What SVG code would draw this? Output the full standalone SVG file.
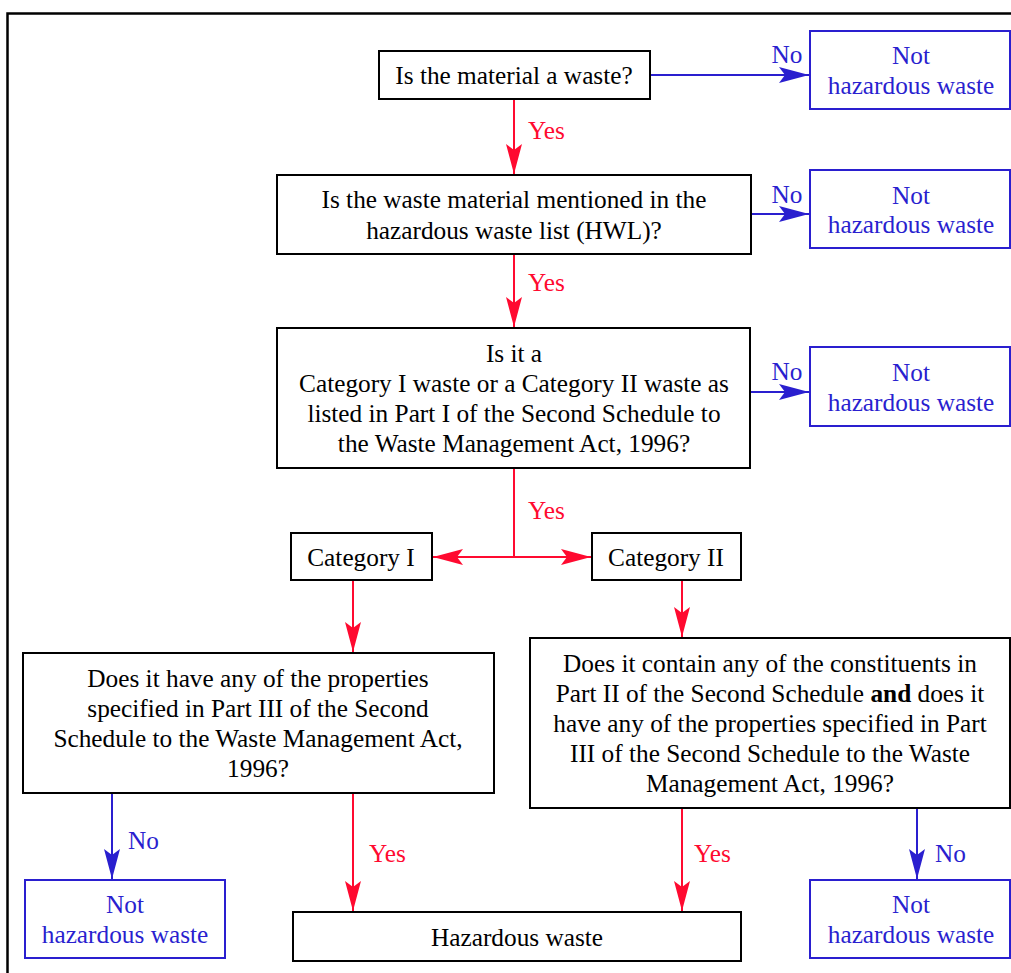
<svg xmlns="http://www.w3.org/2000/svg" width="1011" height="973" viewBox="0 0 1011 973">
<style>
text{font-family:"Liberation Serif","Times New Roman",serif;font-size:25.3px;text-anchor:middle}
.q{fill:#fff;stroke:#000;stroke-width:2}
.n{fill:#fff;stroke:#2a1fcf;stroke-width:2}
.b{fill:#2a1fcf}
.r{fill:#ff0a30}
.lb{stroke:#2a1fcf;stroke-width:2;fill:none}
.lr{stroke:#ff0a30;stroke-width:2;fill:none}
.ls{text-anchor:start}
</style>
<defs>
<marker id="ab" viewBox="0 0 30 16" refX="30" refY="8" markerWidth="30" markerHeight="16" markerUnits="userSpaceOnUse" orient="auto-start-reverse">
<path d="M0,0 L30,8 L0,16 L6,8 z" fill="#2a1fcf"/>
</marker>
<marker id="ar" viewBox="0 0 30 16" refX="30" refY="8" markerWidth="30" markerHeight="16" markerUnits="userSpaceOnUse" orient="auto-start-reverse">
<path d="M0,0 L30,8 L0,16 L6,8 z" fill="#ff0a30"/>
</marker>
</defs>
<rect width="1011" height="973" fill="#fff"/>
<path d="M7.5,973 V13.5 H1011" fill="none" stroke="#000" stroke-width="2.5"/>

<g id="connectors">
<line class="lb" x1="650" y1="75" x2="809" y2="75" marker-end="url(#ab)"/>
<text class="b" x="787" y="63">No</text>
<line class="lr" x1="514" y1="99" x2="514" y2="174" marker-end="url(#ar)"/>
<text class="r ls" x="528" y="139">Yes</text>

<line class="lb" x1="751" y1="214" x2="809" y2="214" marker-end="url(#ab)"/>
<text class="b" x="787" y="203">No</text>
<line class="lr" x1="514" y1="254" x2="514" y2="327" marker-end="url(#ar)"/>
<text class="r ls" x="528" y="291">Yes</text>

<line class="lb" x1="750" y1="392" x2="809" y2="392" marker-end="url(#ab)"/>
<text class="b" x="787" y="380">No</text>
<line class="lr" x1="514" y1="468" x2="514" y2="557"/>
<text class="r ls" x="528" y="519">Yes</text>
<line class="lr" x1="433" y1="557" x2="591" y2="557" marker-start="url(#ar)" marker-end="url(#ar)"/>

<line class="lr" x1="353" y1="580" x2="353" y2="652" marker-end="url(#ar)"/>
<line class="lr" x1="682" y1="580" x2="682" y2="637" marker-end="url(#ar)"/>

<line class="lb" x1="112" y1="793" x2="112" y2="879" marker-end="url(#ab)"/>
<text class="b ls" x="128" y="849">No</text>
<line class="lr" x1="353" y1="793" x2="353" y2="911" marker-end="url(#ar)"/>
<text class="r ls" x="369" y="862">Yes</text>
<line class="lr" x1="682" y1="808" x2="682" y2="911" marker-end="url(#ar)"/>
<text class="r ls" x="694" y="862">Yes</text>
<line class="lb" x1="917" y1="808" x2="917" y2="879" marker-end="url(#ab)"/>
<text class="b ls" x="935" y="862">No</text>
</g>

<g id="q1">
<rect class="q" x="379" y="51" width="271" height="48"/>
<text x="514" y="83.5">Is the material a waste?</text>
</g>
<g id="n1">
<rect class="n" x="810" y="31" width="200" height="78"/>
<text class="b" x="911" y="64">Not</text>
<text class="b" x="911" y="93.5">hazardous waste</text>
</g>

<g id="q2">
<rect class="q" x="277" y="175" width="474" height="79"/>
<text x="514" y="207.5">Is the waste material mentioned in the</text>
<text x="514" y="238.5">hazardous waste list (HWL)?</text>
</g>
<g id="n2">
<rect class="n" x="810" y="170" width="200" height="78"/>
<text class="b" x="911" y="203.5">Not</text>
<text class="b" x="911" y="233">hazardous waste</text>
</g>

<g id="q3">
<rect class="q" x="277" y="328" width="473" height="140"/>
<text x="514" y="362">Is it a</text>
<text x="514" y="392">Category I waste or a Category II waste as</text>
<text x="514" y="422">listed in Part I of the Second Schedule to</text>
<text x="514" y="452">the Waste Management Act, 1996?</text>
</g>
<g id="n3">
<rect class="n" x="810" y="347" width="200" height="79"/>
<text class="b" x="911" y="381">Not</text>
<text class="b" x="911" y="410.5">hazardous waste</text>
</g>

<g id="cat1">
<rect class="q" x="291" y="533" width="141" height="47"/>
<text x="361" y="565.5">Category I</text>
</g>
<g id="cat2">
<rect class="q" x="592" y="533" width="149" height="47"/>
<text x="666" y="565.5">Category II</text>
</g>

<g id="qL">
<rect class="q" x="23" y="653" width="471" height="140"/>
<text x="258" y="686.5">Does it have any of the properties</text>
<text x="258" y="716.5">specified in Part III of the Second</text>
<text x="258" y="746.5">Schedule to the Waste Management Act,</text>
<text x="258" y="776.5">1996?</text>
</g>
<g id="qR">
<rect class="q" x="530" y="638" width="480" height="170"/>
<text x="770" y="671.5">Does it contain any of the constituents in</text>
<text x="770" y="701.5">Part II of the Second Schedule <tspan font-weight="bold">and</tspan> does it</text>
<text x="770" y="731.5">have any of the properties specified in Part</text>
<text x="770" y="762">III of the Second Schedule to the Waste</text>
<text x="770" y="792">Management Act, 1996?</text>
</g>

<g id="nL">
<rect class="n" x="25" y="880" width="200" height="78"/>
<text class="b" x="125" y="913">Not</text>
<text class="b" x="125" y="942.5">hazardous waste</text>
</g>
<g id="hw">
<rect class="q" x="293" y="912" width="448" height="49"/>
<text x="517" y="945.5">Hazardous waste</text>
</g>
<g id="nR">
<rect class="n" x="810" y="880" width="200" height="78"/>
<text class="b" x="911" y="913">Not</text>
<text class="b" x="911" y="942.5">hazardous waste</text>
</g>
</svg>
